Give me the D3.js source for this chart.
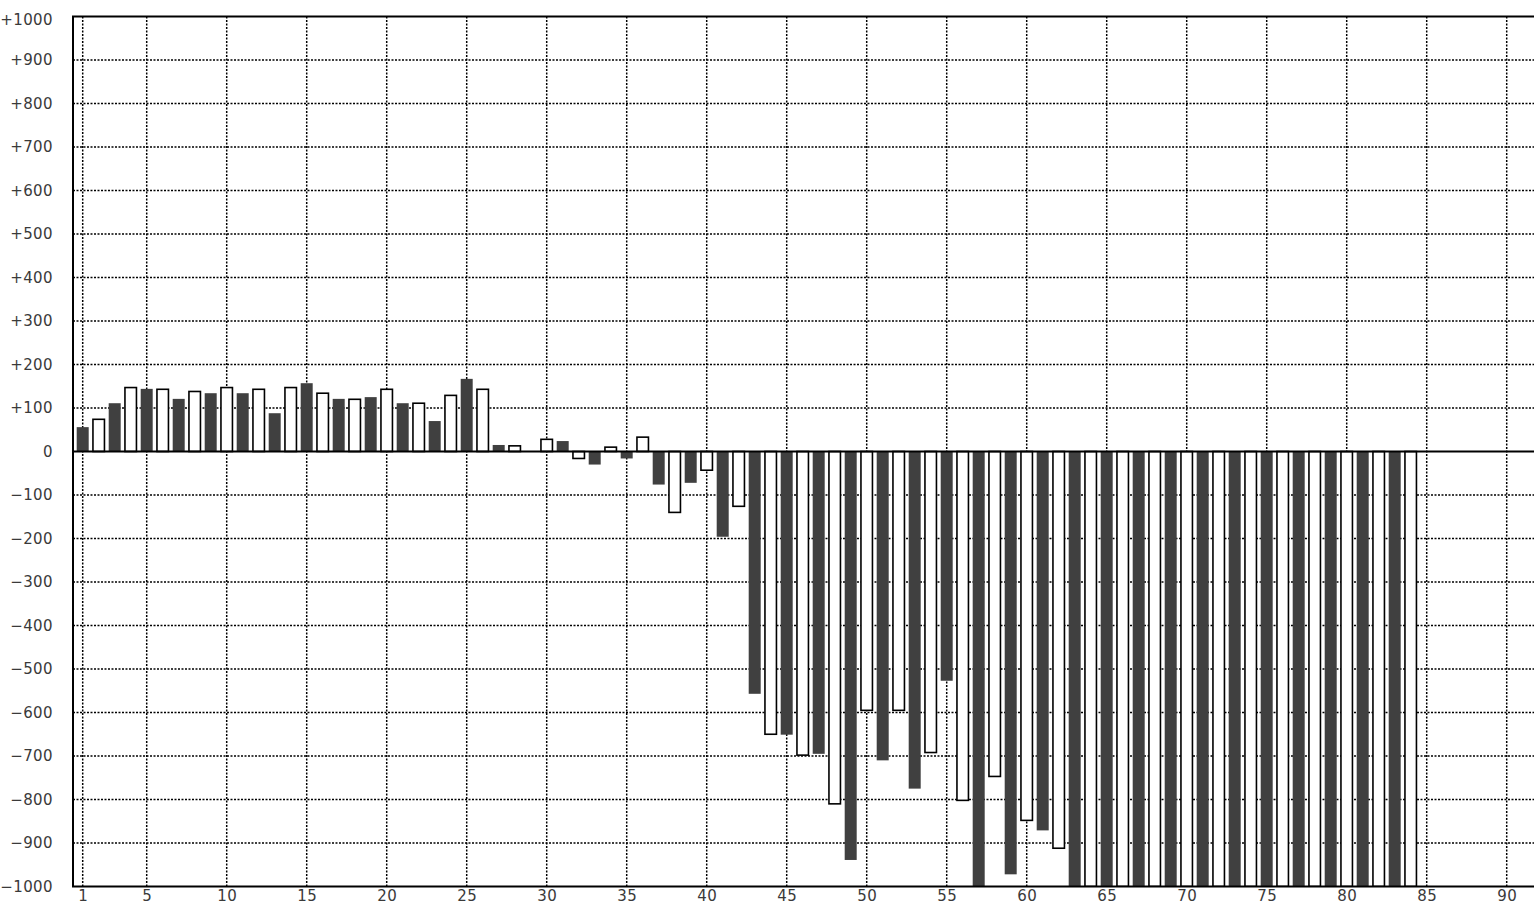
<!DOCTYPE html>
<html>
<head>
<meta charset="utf-8">
<script src="https://cdn.jsdelivr.net/npm/d3@7"></script>
<style>
  html, body { margin: 0; padding: 0; background: #fff; }
  svg { display: block; }
  text { font-family: "DejaVu Sans", sans-serif; font-size: 15px; fill: #3a3a3a; letter-spacing: 0.4px; }
</style>
</head>
<body>
<svg id="chart" width="1534" height="908"></svg>
<script>
// Dark series (odd categories)
const darkCategories = [1,3,5,7,9,11,13,15,17,19,21,23,25,27,29,31,33,35,37,39,41,43,45,47,49,51,53,55,57,59,61,63,65,67,69,71,73,75,77,79,81,83];
const darkValues     = [56,111,144,121,134,134,88,157,121,125,111,70,167,15,0,24,-30,-16,-76,-72,-196,-557,-651,-695,-939,-710,-775,-527,-1000,-972,-871,-1000,-1000,-1000,-1000,-1000,-1000,-1000,-1000,-1000,-1000,-1000];
// Light (outlined) series (even categories)
const lightCategories = [2,4,6,8,10,12,14,16,18,20,22,24,26,28,30,32,34,36,38,40,42,44,46,48,50,52,54,56,58,60,62,64,66,68,70,72,74,76,78,80,82,84];
const lightValues     = [74,147,143,138,147,143,147,134,120,143,111,129,143,13,28,-16,10,33,-140,-43,-126,-650,-698,-810,-595,-595,-692,-802,-747,-848,-912,-1000,-1000,-1000,-1000,-1000,-1000,-1000,-1000,-1000,-1000,-1000];

const xTicks = [1,5,10,15,20,25,30,35,40,45,50,55,60,65,70,75,80,85,90];
const yTicks = [-1000,-900,-800,-700,-600,-500,-400,-300,-200,-100,0,100,200,300,400,500,600,700,800,900,1000];

const pL = 73, pT = 16.5, pR = 1534, pB = 886.5;

const x = d3.scaleLinear().domain([1, 90]).range([82.7, 1506.7]);
const y = d3.scaleLinear().domain([-1000, 1000]).range([pB, pT]);

const svg = d3.select("#chart");

svg.append("defs").append("clipPath").attr("id", "plotclip")
  .append("rect").attr("x", pL).attr("y", pT).attr("width", pR - pL).attr("height", pB - pT);

const fmt = v => v > 0 ? "+" + v : (v < 0 ? "\u2212" + Math.abs(v) : "0");

// Gridlines
const grid = svg.append("g").attr("clip-path", "url(#plotclip)");
grid.selectAll("line.h").data(yTicks.filter(v => v !== 0 && v !== -1000 && v !== 1000)).join("line")
  .attr("x1", pL).attr("x2", pR)
  .attr("y1", d => y(d)).attr("y2", d => y(d))
  .attr("stroke", "#000").attr("stroke-width", 1.5).attr("stroke-dasharray", "2,1.5");
grid.selectAll("line.v").data(xTicks).join("line")
  .attr("y1", pT).attr("y2", pB)
  .attr("x1", d => x(d)).attr("x2", d => x(d))
  .attr("stroke", "#000").attr("stroke-width", 1.5).attr("stroke-dasharray", "2,1.5");

// Bars
const bw = 12;
const bars = svg.append("g").attr("clip-path", "url(#plotclip)");
bars.selectAll("rect.dark").data(darkCategories.map((c, i) => [c, darkValues[i]])).join("rect")
  .attr("x", d => x(d[0]) - bw / 2)
  .attr("width", bw)
  .attr("y", d => Math.min(y(d[1]), y(0)))
  .attr("height", d => Math.abs(y(d[1]) - y(0)))
  .attr("fill", "#404040");
bars.selectAll("rect.light").data(lightCategories.map((c, i) => [c, lightValues[i]])).join("rect")
  .attr("x", d => x(d[0]) - (bw - 0.5) / 2)
  .attr("width", bw - 0.5)
  .attr("y", d => Math.min(y(d[1]), y(0)))
  .attr("height", d => Math.abs(y(d[1]) - y(0)))
  .attr("fill", "#fff").attr("stroke", "#000").attr("stroke-width", 1.6);

// Zero line
svg.append("line").attr("x1", pL).attr("x2", pR).attr("y1", y(0)).attr("y2", y(0))
  .attr("stroke", "#000").attr("stroke-width", 2);

// Frame
svg.append("path")
  .attr("d", `M${pR},${pT}H${pL}V${pB}H${pR}`)
  .attr("fill", "none").attr("stroke", "#000").attr("stroke-width", 2);

// Y labels
const yAxis = d3.axisLeft(y).tickValues(yTicks).tickSize(0).tickPadding(0).tickFormat(fmt);
const ya = svg.append("g").attr("transform", `translate(53,0)`).call(yAxis);
ya.select(".domain").remove();
ya.selectAll("text").attr("fill", "#3a3a3a").style("font-size", "15px").style("font-family", "DejaVu Sans, sans-serif")
  .attr("dy", d => d === 1000 ? "0.55em" : "0.32em");

// X labels
const xAxis = d3.axisBottom(x).tickValues(xTicks).tickSize(0).tickPadding(0).tickFormat(d => d);
const xa = svg.append("g").attr("transform", `translate(0,${pB + 4})`).call(xAxis);
xa.select(".domain").remove();
xa.selectAll("text").attr("fill", "#3a3a3a").style("font-size", "15px").style("font-family", "DejaVu Sans, sans-serif");
</script>
</body>
</html>
